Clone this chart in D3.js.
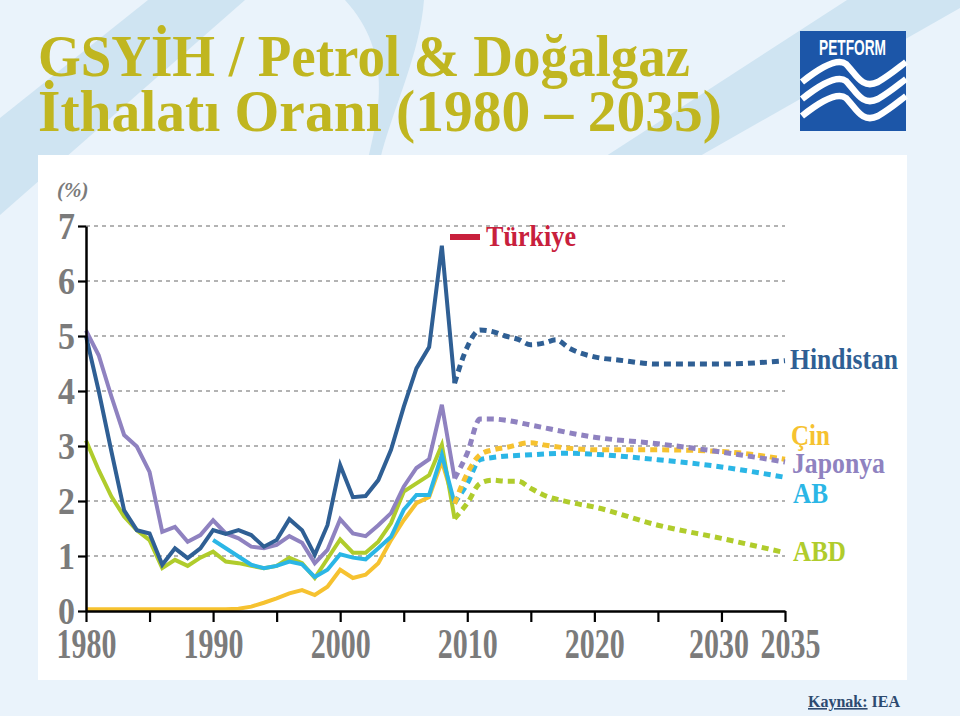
<!DOCTYPE html>
<html><head><meta charset="utf-8">
<script src="https://cdn.jsdelivr.net/npm/d3@7/dist/d3.min.js"></script>
<style>html,body{margin:0;padding:0;background:#eaf3fb;}svg{display:block;}</style>
</head><body>
<svg id="c" width="960" height="716"></svg>
<script>
// ---- data ----
const histYears = d3.range(1980, 2010);
const hindistanHist = [5.0,4.0,2.9,1.83,1.47,1.41,0.84,1.14,0.96,1.14,1.47,1.40,1.47,1.38,1.17,1.29,1.67,1.47,1.02,1.56,2.65,2.07,2.09,2.38,2.93,3.71,4.41,4.8,6.64,4.14];
const japonyaHist = [5.1,4.65,3.9,3.2,2.99,2.53,1.44,1.53,1.26,1.38,1.65,1.41,1.32,1.17,1.14,1.2,1.36,1.24,0.87,1.11,1.67,1.41,1.36,1.56,1.78,2.26,2.6,2.76,3.75,2.41];
const abdHist = [3.1,2.56,2.08,1.72,1.47,1.29,0.78,0.93,0.82,0.97,1.08,0.90,0.87,0.82,0.78,0.82,0.97,0.87,0.6,0.95,1.3,1.06,1.06,1.26,1.6,2.17,2.32,2.47,3.02,1.68];
const cinHist = [0.03,0.03,0.03,0.03,0.03,0.03,0.03,0.03,0.03,0.03,0.03,0.03,0.04,0.08,0.15,0.23,0.32,0.38,0.29,0.44,0.75,0.6,0.66,0.87,1.29,1.65,1.96,2.07,2.72,1.95];
const abHistYears = d3.range(1990, 2010);
const abHist = [1.29,1.14,0.99,0.84,0.78,0.82,0.9,0.85,0.62,0.75,1.03,0.97,0.94,1.14,1.35,1.84,2.11,2.11,2.84,1.96];

const hindistanProjYears = [2009,2010,2011,2012,2013,2014,2015,2016,2017,2018,2020,2022,2025,2030,2035];
const hindistanProj = [4.14,4.8,5.11,5.08,5.0,4.94,4.84,4.87,4.93,4.78,4.62,4.56,4.49,4.49,4.55];
const japonyaProjYears = [2009,2010,2011,2012,2013,2015,2020,2025,2030,2035];
const japonyaProj = [2.41,2.87,3.49,3.49,3.47,3.38,3.16,3.04,2.89,2.71];
const abdProjYears = [2009,2010,2011,2012,2013,2014,2015,2016,2018,2020,2025,2030,2035];
const abdProj = [1.68,1.96,2.32,2.38,2.36,2.36,2.23,2.11,1.98,1.89,1.56,1.32,1.06];
const abProjYears = [2009,2010,2011,2012,2015,2018,2020,2025,2030,2035];
const abProj = [1.96,2.32,2.75,2.79,2.84,2.87,2.85,2.75,2.62,2.43];
const cinProjYears = [2009,2010,2011,2012,2013,2015,2016,2018,2020,2025,2030,2035];
const cinProj = [1.95,2.5,2.84,2.93,2.97,3.06,3.02,2.96,2.93,2.93,2.9,2.76];

const yTicks = [0,1,2,3,4,5,6,7];
const xTicks = [1980,1985,1990,1995,2000,2005,2010,2015,2020,2025,2030,2035];
const xLabels = [1980,1990,2000,2010,2020,2030,2035];

const titleLines = ["GSYİH / Petrol & Doğalgaz", "İthalatı Oranı (1980 – 2035)"];

// ---- drawing ----
const svg = d3.select("#c");
const C = {hind:"#2f5f94", jap:"#8f82c0", abd:"#b0cc2c", ab:"#2bb6e6", cin:"#f6c230", tr:"#c8203c", gray:"#7b7b7b", title:"#c0b620"};

// background
svg.append("rect").attr("width",960).attr("height",716).attr("fill","#eaf3fb");
svg.append("path").attr("d","M148,0 L245,0 L0,215 L0,118 Z").attr("fill","#cfe4f2");
svg.append("path").attr("d","M345,0 C395,55 378,115 368,160 L380,160 C392,110 420,55 424,0 Z").attr("fill","#cfe4f2");
svg.append("path").attr("d","M600,160 L693,160 L960,8 L960,0 L847,0 Z").attr("fill","#cfe4f2");

// title
const tl = svg.append("g").attr("font-family","'Liberation Serif','DejaVu Serif',serif").attr("font-weight","bold").attr("fill",C.title).attr("font-size",60);
tl.append("text").attr("x",38).attr("y",76).attr("textLength",652).attr("lengthAdjust","spacingAndGlyphs").text(titleLines[0]);
tl.append("text").attr("x",38).attr("y",131).attr("textLength",684).attr("lengthAdjust","spacingAndGlyphs").text(titleLines[1]);

// logo
const lg = svg.append("g");
lg.append("rect").attr("x",800).attr("y",31).attr("width",106).attr("height",100).attr("fill","#1c56a8");
lg.append("text").attr("x",819).attr("y",55).attr("fill","#fff").attr("font-family","'Liberation Sans Narrow','Liberation Sans',Arial,sans-serif").attr("font-weight","bold").attr("font-size",22).attr("textLength",67).attr("lengthAdjust","spacingAndGlyphs").text("PETFORM");
[0,17,34].forEach(dy=>{
  lg.append("path").attr("d",`M802,${82+dy} C822,${66+dy} 838,${58+dy} 846,${64+dy} C856,${74+dy} 862,${90+dy} 878,${82+dy} C890,${75+dy} 898,${68+dy} 906,${62+dy}`)
    .attr("fill","none").attr("stroke","#fff").attr("stroke-width",6.5);
});

// panel
svg.append("rect").attr("x",38).attr("y",155).attr("width",869).attr("height",525).attr("fill","#ffffff");

// scales
const x = d3.scaleLinear().domain([1980,2035]).range([86,785]);
const y = d3.scaleLinear().domain([0,7]).range([611,226]);

// grid
svg.append("g").selectAll("line").data(yTicks.filter(d=>d>0)).join("line")
  .attr("x1",x(1980)).attr("x2",x(2035)).attr("y1",d=>y(d)).attr("y2",d=>y(d))
  .attr("stroke","#9a9a9a").attr("stroke-width",1.6).attr("stroke-dasharray","4,4");

// lines
const lineL = d3.line().x(d=>x(d[0])).y(d=>y(d[1])).curve(d3.curveLinear);
const lineP = d3.line().x(d=>x(d[0])).y(d=>y(d[1])).curve(d3.curveMonotoneX);
const zip = (a,b)=>a.map((v,i)=>[v,b[i]]);
const hist = [
  [histYears,cinHist,C.cin],[histYears,abdHist,C.abd],[abHistYears,abHist,C.ab],
  [histYears,japonyaHist,C.jap],[histYears,hindistanHist,C.hind]
];
const proj = [
  [abdProjYears,abdProj,C.abd],[abProjYears,abProj,C.ab],[cinProjYears,cinProj,C.cin],
  [japonyaProjYears,japonyaProj,C.jap],[hindistanProjYears,hindistanProj,C.hind]
];
const gl = svg.append("g").attr("fill","none");
hist.forEach(s=>gl.append("path").attr("d",lineL(zip(s[0],s[1]))).attr("stroke",s[2]).attr("stroke-width",4).attr("stroke-linejoin","miter"));
proj.forEach(s=>gl.append("path").attr("d",lineP(zip(s[0],s[1]))).attr("stroke",s[2]).attr("stroke-width",5).attr("stroke-dasharray","7,5"));

// axes
const labelShift = {2030:-3, 2035:5};
const ax = svg.append("g").attr("transform",`translate(0,${y(0)})`)
  .call(d3.axisBottom(x).tickValues(xTicks).tickSize(11).tickSizeOuter(0).tickFormat(d=>xLabels.includes(d)?d:""));
ax.select(".domain").attr("stroke","#000").attr("stroke-width",2.5);
ax.selectAll(".tick line").attr("stroke","#000").attr("stroke-width",2.2);
ax.selectAll(".tick text").attr("fill",C.gray).attr("font-family","'Liberation Serif',serif").attr("font-weight","bold")
  .attr("font-size",42).attr("dy",0).attr("y",47)
  .attr("x",d=>labelShift[d]||0)
  .each(function(d){ if(xLabels.includes(d)) d3.select(this).attr("textLength",60).attr("lengthAdjust","spacingAndGlyphs"); });

const ay = svg.append("g").attr("transform",`translate(${x(1980)},0)`)
  .call(d3.axisLeft(y).tickValues(yTicks).tickSize(8).tickSizeOuter(0).tickFormat(d3.format("d")));
ay.select(".domain").attr("stroke","#000").attr("stroke-width",2.5);
ay.selectAll(".tick line").attr("stroke","#000").attr("stroke-width",2.2);
ay.selectAll(".tick text").attr("fill",C.gray).attr("font-family","'Liberation Serif',serif").attr("font-weight","bold")
  .attr("font-size",37).attr("x",-11).attr("dy",12).attr("textLength",17).attr("lengthAdjust","spacingAndGlyphs");

// unit
svg.append("text").attr("x",57).attr("y",197).attr("fill",C.gray).attr("font-family","'Liberation Serif',serif")
  .attr("font-style","italic").attr("font-weight","bold").attr("font-size",21).text("(%)");

// labels
const lab = svg.append("g").attr("font-family","'Liberation Serif',serif").attr("font-weight","bold").attr("font-size",29);
svg.append("rect").attr("x",450).attr("y",234).attr("width",30).attr("height",6).attr("fill",C.tr);
lab.append("text").attr("x",486).attr("y",246).attr("fill",C.tr).attr("textLength",90).attr("lengthAdjust","spacingAndGlyphs").text("Türkiye");
lab.append("text").attr("x",790).attr("y",369).attr("fill",C.hind).attr("textLength",108).attr("lengthAdjust","spacingAndGlyphs").text("Hindistan");
lab.append("text").attr("x",791).attr("y",445).attr("fill",C.cin).attr("textLength",39).attr("lengthAdjust","spacingAndGlyphs").text("Çin");
lab.append("text").attr("x",792).attr("y",473).attr("fill",C.jap).attr("textLength",93).attr("lengthAdjust","spacingAndGlyphs").text("Japonya");
lab.append("text").attr("x",793).attr("y",503).attr("fill",C.ab).attr("textLength",35).attr("lengthAdjust","spacingAndGlyphs").text("AB");
lab.append("text").attr("x",793).attr("y",561).attr("fill",C.abd).attr("textLength",53).attr("lengthAdjust","spacingAndGlyphs").text("ABD");

// source
const src = svg.append("text").attr("x",808).attr("y",707).attr("fill","#2d4a70").attr("font-family","'Liberation Serif',serif").attr("font-weight","bold").attr("font-size",16);
src.append("tspan").attr("text-decoration","underline").text("Kaynak:");
src.append("tspan").text(" IEA");
</script>
</body></html>
